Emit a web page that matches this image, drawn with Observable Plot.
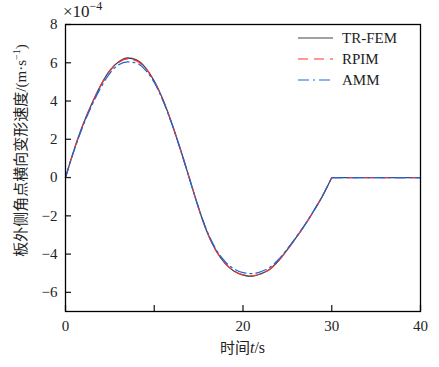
<!DOCTYPE html>
<html>
<head>
<meta charset="utf-8">
<script src="https://cdn.jsdelivr.net/npm/d3@7"></script>
<script src="https://cdn.jsdelivr.net/npm/@observablehq/plot@0.6"></script>
<style>
body { margin: 0; background: #fff; }
#chart { position: relative; width: 439px; height: 367px; }
</style>
</head>
<body>
<div id="chart"></div>
<script>
// time (s)
const time = [0,1,2,3,4,5,6,7,8,9,10,11,12,13,14,15,16,17,18,19,20,21,22,23,24,25,26,27,28,29,30,31,32,33,34,35,36,37,38,39,40];
// velocity, in units of 1e-4 m/s
const trfem = [0,1.5,2.8,3.9,4.85,5.6,6.05,6.25,6.15,5.75,5.05,4.05,2.8,1.4,-0.1,-1.6,-2.9,-3.85,-4.5,-4.9,-5.1,-5.16,-5.03,-4.8,-4.35,-3.77,-3.13,-2.46,-1.72,-0.93,0,0,0,0,0,0,0,0,0,0,0];
const rpim  = [0,1.5,2.8,3.88,4.83,5.57,6.02,6.2,6.1,5.72,5.03,4.03,2.8,1.4,-0.1,-1.6,-2.9,-3.85,-4.48,-4.88,-5.08,-5.14,-5.02,-4.79,-4.35,-3.77,-3.13,-2.46,-1.72,-0.93,0,0,0,0,0,0,0,0,0,0,0];
const amm   = [0,1.45,2.72,3.8,4.72,5.45,5.9,6.05,5.98,5.62,4.97,4.0,2.78,1.38,-0.1,-1.58,-2.85,-3.78,-4.4,-4.78,-4.97,-5.02,-4.92,-4.7,-4.28,-3.72,-3.1,-2.44,-1.71,-0.92,0,0,0,0,0,0,0,0,0,0,0];
const seriesNames = ["TR-FEM", "RPIM", "AMM"];
const seriesColors = ["#444444", "#ff3030", "#1a66e0"];
const seriesDash = [null, "10,6", "11,4,2,4"];
const xTicks = [0,10,20,30,40];
const xTickLabels = ["0","","20","30","40"];
const yTicks = [-6,-4,-2,0,2,4,6,8];
const loadEnd = 30; // end of the loading phase (s)

const seriesData = [trfem, rpim, amm].map(arr => time.map((t, i) => ({t, v: arr[i]})));
const serif = "'Liberation Serif', 'DejaVu Serif', serif";

const fmtY = d => (d < 0 ? "\u2212" + Math.abs(d) : String(d));
const fmtX = d => xTickLabels[xTicks.indexOf(d)];

const lineMarks = [];
seriesData.forEach((data, i) => {
  const common = {x: "t", y: "v", stroke: seriesColors[i], strokeWidth: i === 0 ? 1.3 : 1.2, strokeDasharray: seriesDash[i]};
  lineMarks.push(Plot.line(data.filter(d => d.t <= loadEnd), {...common, curve: "monotone-x"}));
  lineMarks.push(Plot.line(data.filter(d => d.t >= loadEnd), {...common, curve: "linear"}));
});

const plot = Plot.plot({
  width: 439,
  height: 367,
  marginLeft: 65,
  marginRight: 19,
  marginTop: 24,
  marginBottom: 56,
  style: {fontFamily: serif, fontSize: "14px", color: "#222", background: "#fff"},
  x: {domain: [0, 40]},
  y: {domain: [-7, 8]},
  marks: [
    Plot.axisX({ticks: xTicks, tickSize: -6, tickFormat: () => "", label: null, strokeWidth: 1.3}),
    Plot.axisX({ticks: xTicks, tickSize: 0, tickPadding: 9, tickFormat: fmtX, label: null, fontSize: 15}),
    Plot.axisY({ticks: yTicks, tickSize: -6, tickFormat: () => "", label: null, strokeWidth: 1.3}),
    Plot.axisY({ticks: yTicks, tickSize: 0, tickPadding: 8, tickFormat: fmtY, label: null, fontSize: 15}),
    ...lineMarks,
    Plot.frame({stroke: "#000", strokeWidth: 1.3})
  ]
});

document.getElementById("chart").appendChild(plot);

const svg = d3.select(plot);
const xs = plot.scale("x"), ys = plot.scale("y");
const x0 = xs.apply(0), x1 = xs.apply(40), yTop = ys.apply(8), yBot = ys.apply(-7);

// exponent label
const ex = svg.append("text").attr("x", x0 - 2).attr("y", yTop - 7).attr("text-anchor", "start")
  .attr("font-family", serif).style("font-size", "17px").attr("fill", "#222");
ex.append("tspan").style("font-size", "17px").text("\u00d710");
ex.append("tspan").attr("dy", -7).style("font-size", "12px").text("\u22124");

// x axis title
const xt = svg.append("text").attr("x", (x0 + x1) / 2).attr("y", yBot + 42)
  .attr("text-anchor", "middle").attr("font-size", 15).attr("fill", "#222");
xt.append("tspan").attr("font-family", "'Noto Sans CJK SC'").text("时间");
xt.append("tspan").attr("font-family", serif).attr("font-style", "italic").attr("font-size", 16).text("t");
xt.append("tspan").attr("font-family", serif).attr("font-size", 16).text("/s");

// y axis title
const yt = svg.append("text")
  .attr("transform", `translate(26,${(yTop + yBot) / 2 - 17}) rotate(-90)`)
  .attr("text-anchor", "middle").attr("font-size", 15).attr("fill", "#222");
yt.append("tspan").attr("font-family", "'Noto Sans CJK SC'").text("板外侧角点横向变形速度");
yt.append("tspan").attr("font-family", serif).text("/(m\u00b7s");
yt.append("tspan").attr("font-family", serif).attr("font-size", 10).attr("dy", -6).text("\u22121");
yt.append("tspan").attr("font-family", serif).attr("dy", 6).text(")");

// legend
const lg = svg.append("g");
seriesNames.forEach((name, i) => {
  const y = yTop + 14 + i * 21;
  lg.append("line").attr("x1", x1 - 122).attr("x2", x1 - 87).attr("y1", y).attr("y2", y)
    .attr("stroke", seriesColors[i]).attr("stroke-width", 1.2)
    .attr("stroke-dasharray", seriesDash[i]);
  lg.append("text").attr("x", x1 - 78).attr("y", y + 5).attr("text-anchor", "start")
    .attr("font-family", serif).attr("font-size", 15).attr("fill", "#222").text(name);
});
</script>
</body>
</html>
